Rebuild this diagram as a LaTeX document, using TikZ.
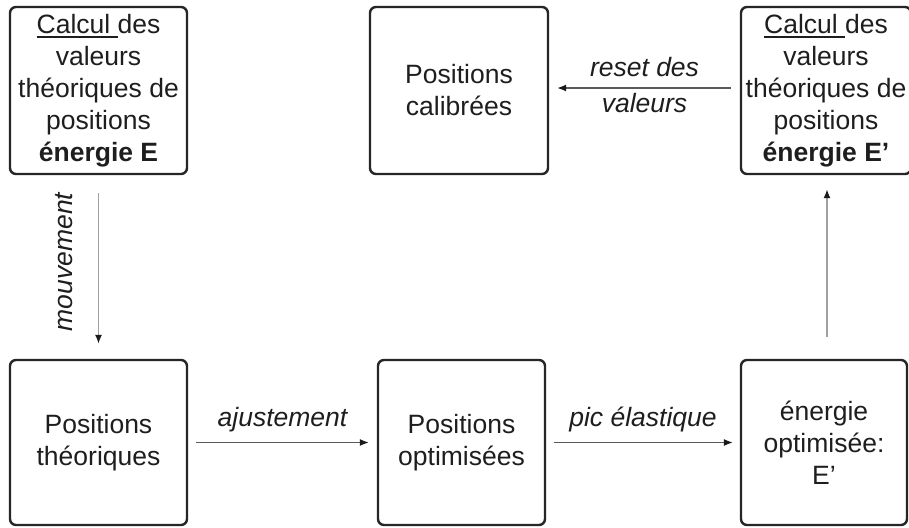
\documentclass[tikz,border=0pt]{standalone}
\usepackage{fontspec}
\setmainfont{Liberation Sans}
\usetikzlibrary{arrows.meta}
\definecolor{txt}{HTML}{1E1E1E}
\definecolor{bord}{HTML}{262626}
\definecolor{arrh}{HTML}{5A5A5A}
\definecolor{arrv}{HTML}{A0A0A0}
\definecolor{tipc}{HTML}{1A1A1A}
\newcommand{\myul}[1]{\setbox0\hbox{#1}\rlap{\rule[-5pt]{\wd0}{1.8pt}}\box0}
\begin{document}
\begin{tikzpicture}[x=1pt,y=-1pt,
  box/.style={draw=bord, line width=2.4pt, rounded corners=6pt, text=txt, align=center,
    font=\fontsize{26.5}{32}\selectfont, inner sep=0pt},
  lab/.style={text=txt, font=\fontsize{26.5}{32}\selectfont\itshape, inner sep=0pt},
  connh/.style={draw=arrh, line width=1.3pt, -{Latex[length=9pt,width=7pt,color=tipc]}},
  connv/.style={draw=arrv, line width=1.5pt, -{Latex[length=9pt,width=7pt,color=tipc]}}
]
\useasboundingbox (0,0) rectangle (909,527);
\fill[white] (0,0) rectangle (909,527);

\node[box, minimum width=177pt, minimum height=167pt] (tl) at (98.5,90.5)
  {\myul{Calcul\ }des\\valeurs\\théoriques de\\positions\\\textbf{énergie E}};
\node[box, minimum width=178pt, minimum height=167pt] (tm) at (459,90.5)
  {Positions\\calibrées};
\node[box, minimum width=170pt, minimum height=167pt] (tr) at (826,90.5)
  {\myul{Calcul\ }des\\valeurs\\théoriques de\\positions\\\textbf{énergie E’}};
\node[box, minimum width=177pt, minimum height=165pt] (bl) at (98.5,442.5)
  {Positions\\théoriques};
\node[box, minimum width=167pt, minimum height=165pt] (bm) at (461.5,442.5)
  {Positions\\optimisées};
\node[box, minimum width=166pt, minimum height=165pt] (br) at (824,442.5)
  {énergie\\optimisée:\\E’};

% mouvement
\draw[connv, shorten <=18pt, shorten >=15pt] (tl.south) -- (bl.north);
\node[lab, rotate=90] (lmv) at (64,262) {mouvement};

% ajustement
\draw[connh, shorten <=8pt, shorten >=8pt] (bl.east) -- node[lab, above=9.5pt] (laj) {ajustement} (bm.west);

% pic elastique
\draw[connh, shorten <=8pt, shorten >=7pt] (bm.east) -- node[lab, above=9.5pt] (lpe) {pic élastique} (br.west);

% up arrow
\draw[connv, shorten <=22pt, shorten >=14pt] ([xshift=3pt]br.north) -- ([xshift=3pt]br.north |- tr.south);

% reset des valeurs
\draw[connh, shorten <=9pt, shorten >=8pt] ([yshift=2.5pt]tr.west) -- node[lab, above=11pt] (lr1) {reset des} node[lab, below=4.5pt] (lr2) {valeurs} ([yshift=2.5pt]tr.west -| tm.east);
\end{tikzpicture}
\end{document}
